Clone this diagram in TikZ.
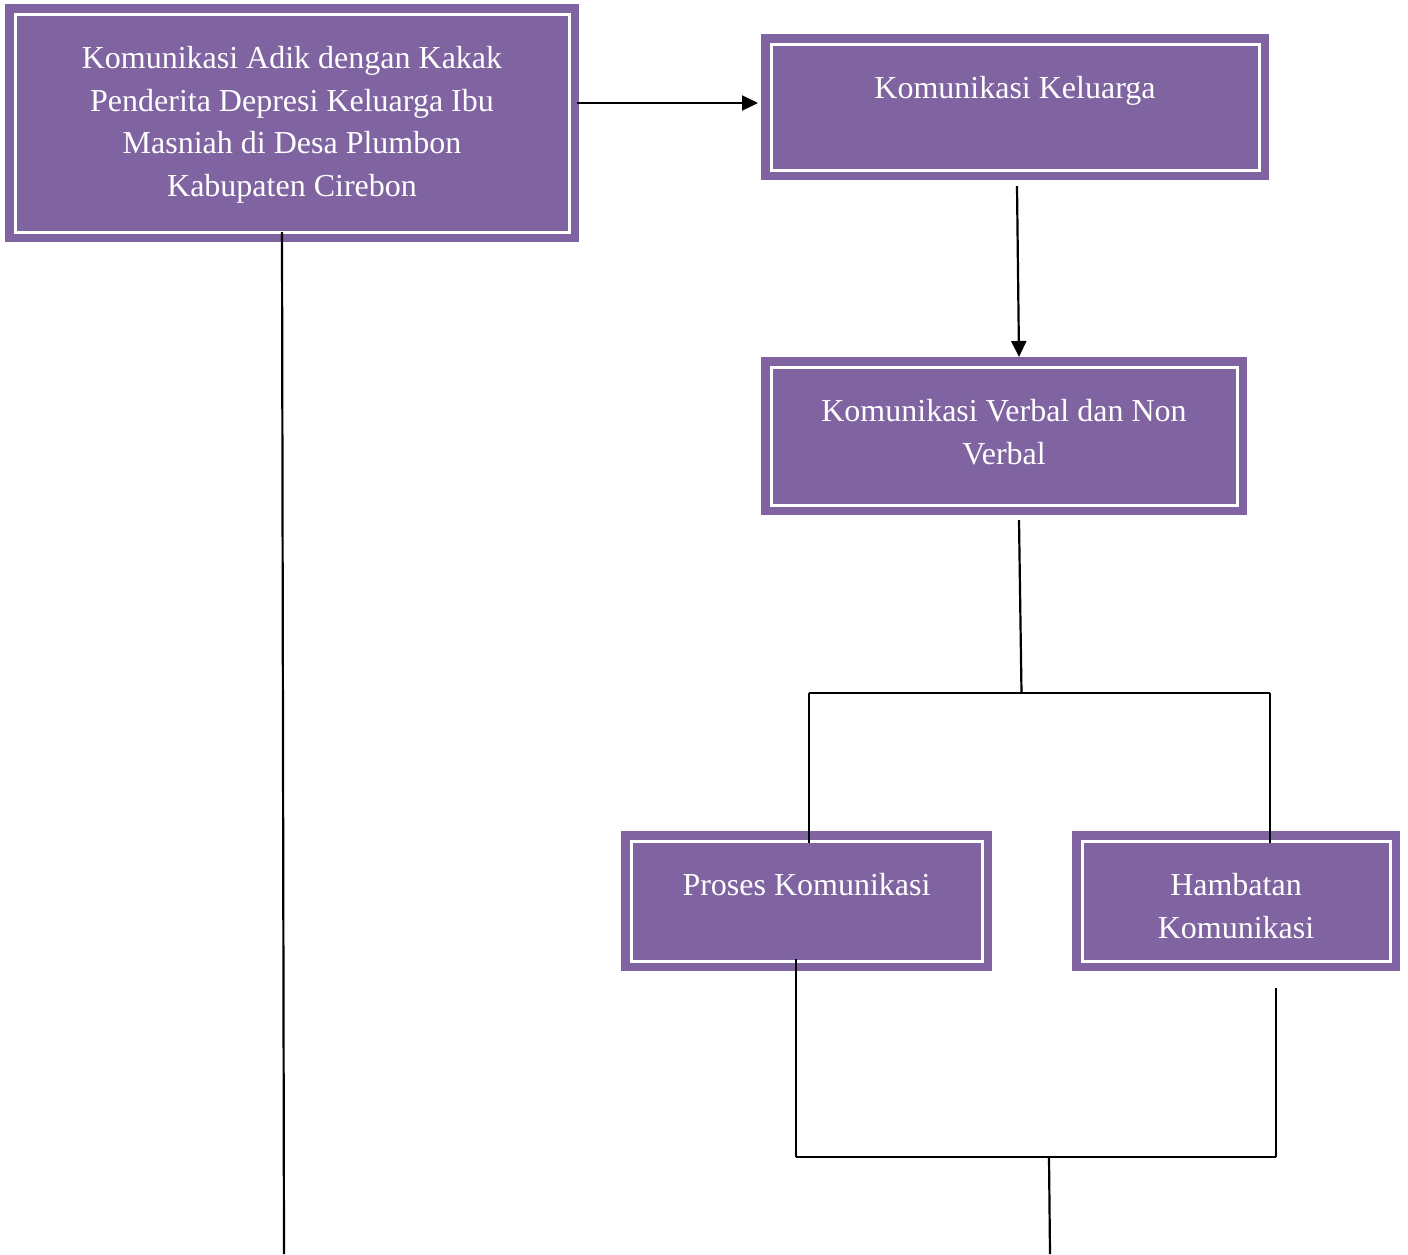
\documentclass[tikz,border=0pt]{standalone}
\usepackage{fontspec}
\setmainfont{Liberation Serif}
\usetikzlibrary{arrows.meta}
\definecolor{boxpurple}{RGB}{128,100,162}
\newcommand{\boxtxt}[3]{\parbox[c][#2][t]{#1}{\centering\fontsize{32}{42.5}\selectfont\rule{0pt}{54.5pt}#3}}
\begin{document}
\begin{tikzpicture}[x=1pt,y=-1pt,
  box/.style={fill=boxpurple, draw=white, line width=3pt,
    preaction={draw=boxpurple, line width=20pt},
    inner sep=0pt, text=white},
  conn/.style={draw=black, line width=2.2pt},
  arr/.style={conn, -{Triangle[length=16pt,width=15pt]}}]
\useasboundingbox (0,0) rectangle (1408,1254);

\node[box] (A) at (292,123) {\boxtxt{554pt}{218pt}{Komunikasi Adik dengan Kakak\\Penderita Depresi Keluarga Ibu\\Masniah di Desa Plumbon\\Kabupaten Cirebon}};
\node[box] (B) at (1015,107) {\boxtxt{488pt}{126pt}{Komunikasi Keluarga}};
\node[box] (C) at (1004,436) {\boxtxt{466pt}{138pt}{Komunikasi Verbal dan Non\\Verbal}};
\node[box] (D) at (806.5,901) {\boxtxt{351pt}{120pt}{Proses Komunikasi}};
\node[box] (E) at (1236,901) {\boxtxt{308pt}{120pt}{Hambatan\\Komunikasi}};

\coordinate (aend) at (284,1254);
\coordinate (j1) at (1021.5,693);
\coordinate (jl) at (809,693);
\coordinate (jr) at (1270,693);
\coordinate (kl) at (796,1157);
\coordinate (kr) at (1276,1157);
\coordinate (km) at (1049,1157);
\coordinate (kend) at (1050,1254);

\draw[arr] ([shift={(6.5,-20)}]A.east) -- ([shift={(-11.5,-4)}]B.west);
\draw[arr] ([shift={(2,14.5)}]B.south) -- ([shift={(15,-8.5)}]C.north);
\draw[conn] ([shift={(15,13.5)}]C.south) -- (j1);
\draw[conn] (jl) -- (jr);
\draw[conn] (jl) -- ([shift={(2.5,3.5)}]D.north);
\draw[conn] (jr) -- ([shift={(34,3.5)}]E.north);
\draw[conn] ([shift={(-10.5,-3.5)}]D.south) -- (kl);
\draw[conn] ([shift={(40,25.5)}]E.south) -- (kr);
\draw[conn] (kl) -- (kr);
\draw[conn] (km) -- (kend);
\draw[conn] ([shift={(-10,-1.5)}]A.south) -- (aend);
\end{tikzpicture}
\end{document}
